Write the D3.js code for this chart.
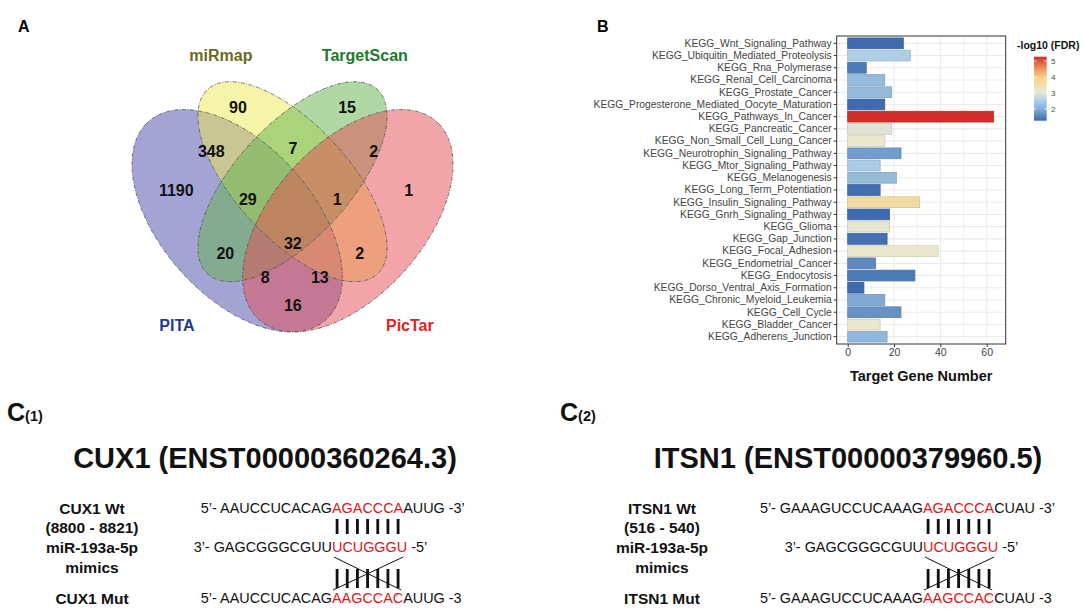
<!DOCTYPE html>
<html><head><meta charset="utf-8">
<script src="https://cdn.jsdelivr.net/npm/d3@7"></script>
<style>
body{margin:0;background:#fff}
svg{display:block;font-family:"Liberation Sans",Arial,Helvetica,sans-serif}
text{white-space:pre}
</style>
</head><body>
<svg id="chart" width="1084" height="611"></svg>
<script>
// ---------------- DATA ----------------
// Panel A: Venn
const vennSets = ["PITA", "miRmap", "TargetScan", "PicTar"];
const vennRegions = ["P","M","T","C","PM","MT","TC","PMT","MTC","PT","MC","PMTC","PTC","PMC","PC"];
const vennCounts  = [1190, 90, 15, 1, 348, 7, 2, 29, 1, 20, 2, 32, 8, 13, 16];

// Panel B: KEGG enrichment
const pathways = [
  "KEGG_Wnt_Signaling_Pathway","KEGG_Ubiquitin_Mediated_Proteolysis","KEGG_Rna_Polymerase",
  "KEGG_Renal_Cell_Carcinoma","KEGG_Prostate_Cancer","KEGG_Progesterone_Mediated_Oocyte_Maturation",
  "KEGG_Pathways_In_Cancer","KEGG_Pancreatic_Cancer","KEGG_Non_Small_Cell_Lung_Cancer",
  "KEGG_Neurotrophin_Signaling_Pathway","KEGG_Mtor_Signaling_Pathway","KEGG_Melanogenesis",
  "KEGG_Long_Term_Potentiation","KEGG_Insulin_Signaling_Pathway","KEGG_Gnrh_Signaling_Pathway",
  "KEGG_Glioma","KEGG_Gap_Junction","KEGG_Focal_Adhesion","KEGG_Endometrial_Cancer",
  "KEGG_Endocytosis","KEGG_Dorso_Ventral_Axis_Formation","KEGG_Chronic_Myeloid_Leukemia",
  "KEGG_Cell_Cycle","KEGG_Bladder_Cancer","KEGG_Adherens_Junction"];
const geneCounts = [24,27,8,16,19,16,63,19,16,23,14,21,14,31,18,18,17,39,12,29,7,16,23,14,17];
const negLogFDR  = [1.3,2.5,1.45,2.2,2.2,1.3,5.27,3.0,3.1,1.8,2.45,2.2,1.35,3.7,1.3,3.05,1.35,3.1,1.6,1.45,1.3,1.95,1.7,3.1,2.15];
const xTicks = [0, 20, 40, 60];
const legendTicks = [2, 3, 4, 5];
const fdrStops = [1.27, 1.93, 2.6, 3.1, 3.93, 4.6, 5.27];

// Panel C: binding sites
const geneNames   = ["CUX1", "ITSN1"];
const transcripts = ["ENST00000360264.3", "ENST00000379960.5"];
const wtRanges    = ["(8800 - 8821)", "(516 - 540)"];
const wtSeqs  = [["5’- AAUCCUCACAG","AGACCCA","AUUG -3’"], ["5’- GAAAGUCCUCAAAG","AGACCCA","CUAU -3’"]];
const mirSeq  = ["3’- GAGCGGGCGUU","UCUGGGU"," -5’"];
const mutSeqs = [["5’- AAUCCUCACAG","AAGCCAC","AUUG -3"], ["5’- GAAAGUCCUCAAAG","AAGCCAC","CUAU -3"]];

// ---------------- STYLE / LAYOUT ----------------
const svg = d3.select("#chart");
const FONT = '"Liberation Sans",Arial,sans-serif';

// Panel letters
svg.append("text").attr("x",18).attr("y",32).attr("font-size",16).attr("font-weight","bold").text("A");
svg.append("text").attr("x",597).attr("y",32).attr("font-size",16).attr("font-weight","bold").text("B");

// ---------- Panel A: Venn ----------
const vx = d3.scaleLinear().domain([0,1]).range([108, 477]);
const vy = d3.scaleLinear().domain([0,1]).range([404, 14]);
const ellipses = [
  {cx:0.35, cy:0.47, a:0.35, b:0.20, rot:135},
  {cx:0.50, cy:0.57, a:0.33, b:0.15, rot:135},
  {cx:0.50, cy:0.57, a:0.33, b:0.15, rot:45},
  {cx:0.65, cy:0.47, a:0.35, b:0.20, rot:45}];
const vennFill  = ["#4a4aaa","#ecea54","#5fb24b","#e64c54"];
const vennLabelColor = ["#1b3c98","#6b6a1c","#1d7a2c","#e41e1e"];
const vennLabelPos = [[0.187,0.203],[0.306,0.895],[0.696,0.895],[0.818,0.203]];
const regionPos = {P:[0.185,0.549], M:[0.352,0.762], T:[0.648,0.762], C:[0.815,0.549],
  PM:[0.28,0.649], MT:[0.501,0.656], TC:[0.72,0.649], PMT:[0.379,0.526], MTC:[0.621,0.526],
  PT:[0.318,0.387], MC:[0.682,0.387], PMTC:[0.501,0.413], PTC:[0.426,0.326], PMC:[0.574,0.326], PC:[0.501,0.254]};

function ellipsePts(e){
  const r = e.rot*Math.PI/180;
  return d3.range(0, 361, 2).map(t => {
    const tt = t*Math.PI/180;
    const u = e.a*Math.cos(tt), v = e.b*Math.sin(tt);
    return [e.cx + u*Math.cos(r) - v*Math.sin(r), e.cy + u*Math.sin(r) + v*Math.cos(r)];
  });
}
const eLine = d3.line().x(d=>vx(d[0])).y(d=>vy(d[1])).curve(d3.curveLinearClosed);
const gV = svg.append("g");
ellipses.forEach((e,i)=>{
  gV.append("path").attr("d", eLine(ellipsePts(e))).attr("fill", vennFill[i]).attr("fill-opacity",0.5);
});
ellipses.forEach((e,i)=>{
  gV.append("path").attr("d", eLine(ellipsePts(e))).attr("fill","none")
    .attr("stroke","#555").attr("stroke-width",0.8).attr("stroke-dasharray","4,1.5,1,1.5");
});
vennRegions.forEach((r,i)=>{
  const p = regionPos[r];
  gV.append("text").attr("x",vx(p[0])).attr("y",vy(p[1])).attr("dy","0.36em")
    .attr("text-anchor","middle").attr("font-size",16).attr("font-weight","bold").attr("fill","#111")
    .text(vennCounts[i]);
});
vennSets.forEach((s,i)=>{
  const p = vennLabelPos[i];
  gV.append("text").attr("x",vx(p[0])).attr("y",vy(p[1])).attr("dy","0.36em")
    .attr("text-anchor","middle").attr("font-size",16).attr("font-weight","bold").attr("fill",vennLabelColor[i])
    .text(s);
});

// ---------- Panel B: bar chart ----------
const pL = 836.7, pR = 1005.7, pT = 36, pB = 344;
const x = d3.scaleLinear().domain([-4.75, 68.2]).range([pL, pR]);
const y = d3.scaleBand().domain(pathways).range([pT, pB]).paddingInner(0.12).paddingOuter(0.16);
const color = d3.scaleLinear().domain(fdrStops)
  .range(["#3b68ad","#7ea9d3","#b6d5e8","#ece8cf","#f6d58e","#ee8a58","#d1302a"]).clamp(true);

const gB = svg.append("g");
gB.append("rect").attr("x",pL).attr("y",pT).attr("width",pR-pL).attr("height",pB-pT).attr("fill","#fff");
// grid
d3.range(0, 70, 10).forEach(v=>{
  gB.append("line").attr("x1",x(v)).attr("x2",x(v)).attr("y1",pT).attr("y2",pB)
    .attr("stroke","#ebebeb").attr("stroke-width", v%20===0 ? 1.1 : 0.6);
});
pathways.forEach(p=>{
  const c = y(p)+y.bandwidth()/2;
  gB.append("line").attr("x1",pL).attr("x2",pR).attr("y1",c).attr("y2",c).attr("stroke","#ebebeb").attr("stroke-width",1.1);
});
// bars
gB.selectAll("rect.bar").data(pathways).enter().append("rect").attr("class","bar")
  .attr("x", x(0)).attr("y", d=>y(d))
  .attr("width", (d,i)=>x(geneCounts[i])-x(0)).attr("height", y.bandwidth())
  .attr("fill",(d,i)=>color(negLogFDR[i]))
  .attr("stroke",(d,i)=>d3.color(color(negLogFDR[i])).darker(0.35))
  .attr("stroke-width",0.8);
// border
gB.append("rect").attr("x",pL).attr("y",pT).attr("width",pR-pL).attr("height",pB-pT)
  .attr("fill","none").attr("stroke","#333").attr("stroke-width",1);
// y axis
const yAxis = gB.append("g").attr("transform",`translate(${pL},0)`)
  .call(d3.axisLeft(y).tickSize(3).tickPadding(2));
yAxis.select(".domain").remove();
yAxis.selectAll(".tick line").attr("stroke","#333");
yAxis.selectAll(".tick text").attr("font-size",10.3).attr("fill","#444").attr("font-family",FONT);
// x axis
const xAxis = gB.append("g").attr("transform",`translate(0,${pB})`)
  .call(d3.axisBottom(x).tickValues(xTicks).tickSize(3).tickPadding(2));
xAxis.select(".domain").remove();
xAxis.selectAll(".tick line").attr("stroke","#333");
xAxis.selectAll(".tick text").attr("font-size",10.5).attr("fill","#444").attr("font-family",FONT);
gB.append("text").attr("x",(pL+pR)/2).attr("y",381).attr("text-anchor","middle")
  .attr("font-size",14.5).attr("font-weight","bold").attr("fill","#111").text("Target Gene Number");

// legend
const lg = d3.scaleLinear().domain([fdrStops[0], fdrStops[fdrStops.length-1]]).range([120.7, 56.7]);
const defs = svg.append("defs");
const grad = defs.append("linearGradient").attr("id","fdrgrad").attr("x1",0).attr("x2",0).attr("y1",1).attr("y2",0);
d3.range(0, 1.0001, 0.05).forEach(t=>{
  const v = fdrStops[0] + t*(fdrStops[fdrStops.length-1]-fdrStops[0]);
  grad.append("stop").attr("offset",t).attr("stop-color",color(v));
});
svg.append("text").attr("x",1017).attr("y",49).attr("font-size",10.5).attr("font-weight","bold").attr("fill","#111").text("-log10 (FDR)");
svg.append("rect").attr("x",1034).attr("y",lg.range()[1]).attr("width",12.7).attr("height",lg.range()[0]-lg.range()[1]).attr("fill","url(#fdrgrad)");
legendTicks.forEach(t=>{
  svg.append("line").attr("x1",1034).attr("x2",1036.5).attr("y1",lg(t)).attr("y2",lg(t)).attr("stroke","#fff").attr("stroke-width",0.8);
  svg.append("line").attr("x1",1044.2).attr("x2",1046.7).attr("y1",lg(t)).attr("y2",lg(t)).attr("stroke","#fff").attr("stroke-width",0.8);
  svg.append("text").attr("x",1051).attr("y",lg(t)).attr("dy","0.35em").attr("font-size",8).attr("fill","#4d4d4d").text(t);
});

// ---------- Panel C ----------
const panelC = [
  {cLabelX:7,  labelCX:92,  titleCX:265, redX:332},
  {cLabelX:560, labelCX:662, titleCX:848, redX:923}];
const labelRowsY = [508, 527, 547, 567, 598];
const seqRowsY = [508, 547, 598];

panelC.forEach((L,k)=>{
  const g = svg.append("g");
  const ct = g.append("text").attr("x",L.cLabelX).attr("y",421).attr("font-weight","bold").attr("fill","#111");
  ct.append("tspan").attr("font-size",25).text("C");
  ct.append("tspan").attr("font-size",14.5).text(`(${k+1})`);
  g.append("text").attr("x",L.titleCX).attr("y",468).attr("text-anchor","middle")
    .attr("font-size",29).attr("font-weight","bold").attr("fill","#111")
    .text(`${geneNames[k]} (${transcripts[k]})`);
  const labels = [`${geneNames[k]} Wt`, wtRanges[k], "miR-193a-5p", "mimics", `${geneNames[k]} Mut`];
  labels.forEach((t,i)=>{
    g.append("text").attr("x",L.labelCX).attr("y",labelRowsY[i]).attr("dy","0.36em").attr("text-anchor","middle")
      .attr("font-size",15.5).attr("font-weight","bold").attr("fill","#111").text(t);
  });
  const seqs = [wtSeqs[k], mirSeq, mutSeqs[k]];
  let redW = 0;
  seqs.forEach((s,i)=>{
    g.append("text").attr("x",L.redX).attr("y",seqRowsY[i]).attr("dy","0.36em").attr("text-anchor","end")
      .attr("font-size",14.4).attr("fill","#111").text(s[0]);
    const t = g.append("text").attr("x",L.redX).attr("y",seqRowsY[i]).attr("dy","0.36em")
      .attr("font-size",14.4).attr("fill","#111");
    const r = t.append("tspan").attr("fill","#e0141a").text(s[1]);
    t.append("tspan").text(s[2]);
    if(i===0) redW = r.node().getComputedTextLength();
  });
  const step = redW/7;
  d3.range(7).forEach(j=>{
    const cx = L.redX + (j+0.5)*step;
    g.append("line").attr("x1",cx).attr("x2",cx).attr("y1",519).attr("y2",534).attr("stroke","#111").attr("stroke-width",2.8);
    g.append("line").attr("x1",cx).attr("x2",cx).attr("y1",569).attr("y2",588).attr("stroke","#111").attr("stroke-width",2.8);
  });
  g.append("line").attr("x1",L.redX+2).attr("y1",557).attr("x2",L.redX+redW-2).attr("y2",590).attr("stroke","#111").attr("stroke-width",1);
  g.append("line").attr("x1",L.redX+1).attr("y1",590).attr("x2",L.redX+redW).attr("y2",557).attr("stroke","#111").attr("stroke-width",1);
});
</script>
</body></html>
